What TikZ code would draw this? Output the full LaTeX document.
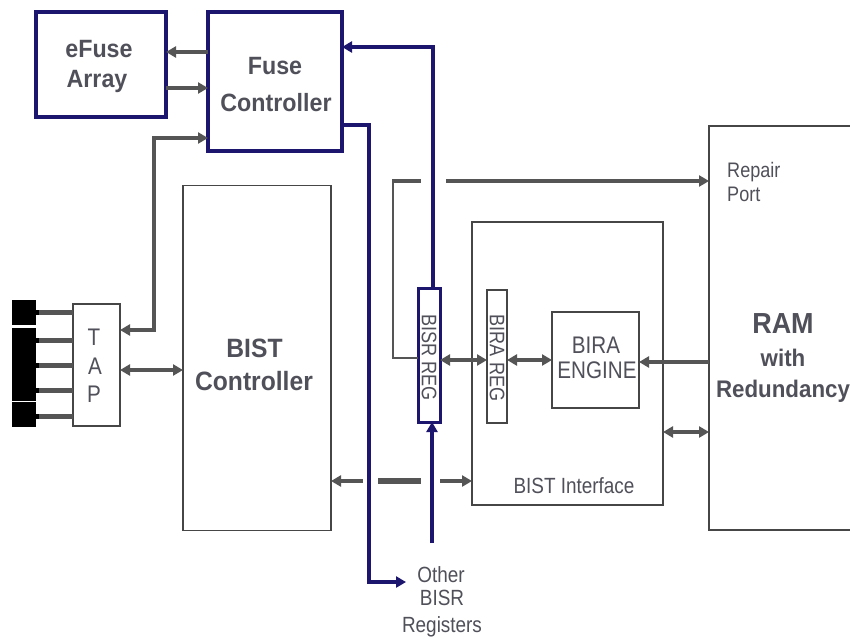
\documentclass[tikz,border=0pt]{standalone}
\usepackage{fontspec}
\newfontfamily\labr[FakeStretch=0.86]{Liberation Sans}
\newfontfamily\labb[FakeStretch=0.93]{Liberation Sans}
\usetikzlibrary{arrows.meta}
\definecolor{navy}{RGB}{28,22,110}
\definecolor{gline}{RGB}{85,85,85}
\definecolor{gbord}{RGB}{70,70,70}
\definecolor{txt}{RGB}{80,80,90}
\tikzset{
  >={Triangle[length=10pt,width=11pt]},
  navybox/.style={draw=navy, line width=3.5pt, fill=white, inner sep=0pt, outer sep=0pt},
  graybox/.style={draw=gbord, line width=1.8pt, fill=white, inner sep=0pt, outer sep=0pt},
  pinbox/.style={fill=black, draw=none, inner sep=0pt, outer sep=0pt, minimum width=24pt},
  garrow/.style={draw=gline, line width=4pt},
  gthin/.style={draw=gline, line width=2pt},
  nline/.style={draw=navy, line width=4.5pt},
  tb25/.style={text=txt, inner sep=0pt, anchor=base, font=\labb\bfseries\fontsize{25}{30}\selectfont},
  tb27/.style={text=txt, inner sep=0pt, anchor=base, font=\labb\bfseries\fontsize{26.5}{30}\selectfont},
  tb29/.style={text=txt, inner sep=0pt, anchor=base, font=\labb\bfseries\fontsize{29}{30}\selectfont},
  tb24/.style={text=txt, inner sep=0pt, anchor=base, font=\labb\bfseries\fontsize{24}{30}\selectfont},
  tr24/.style={text=txt, inner sep=0pt, anchor=base, font=\labr\fontsize{24}{28}\selectfont},
  tr22/.style={text=txt, inner sep=0pt, anchor=base, font=\labr\fontsize{22}{26}\selectfont},
  tr21/.style={text=txt, inner sep=0pt, anchor=base, font=\labr\fontsize{21}{26}\selectfont},
}
\begin{document}
\begin{tikzpicture}[x=1pt,y=-1pt]
\clip (0,0) rectangle (850,639);
\fill[white] (0,0) rectangle (850,639);

% ---------- boxes ----------
\node[navybox, minimum width=130pt, minimum height=105pt] (efuse) at (101,64.5) {};
\node[navybox, minimum width=134pt, minimum height=139pt] (fuse) at (275,81.5) {};
\node[graybox, minimum width=47pt, minimum height=122pt] (tap) at (96.5,365) {};
\node[graybox, minimum width=148pt, minimum height=345pt] (bist) at (257,358) {};
\node[graybox, minimum width=191pt, minimum height=283pt] (bif) at (567.5,363.5) {};
\node[graybox, minimum width=200pt, minimum height=404pt] (ram) at (809,328) {};

% connector pins
\node[pinbox, minimum height=25pt] (pin1) at (24,312.5) {};
\node[pinbox, minimum height=73pt] (pin2) at (24,364) {};
\node[pinbox, minimum height=25pt] (pin3) at (24,414.5) {};

% ---------- gray connectors ----------
\draw[garrow,->] (fuse.west |- 0,52) -- (efuse.east |- 0,52);
\draw[garrow,->] (efuse.east |- 0,88) -- (fuse.west |- 0,88);
\draw[garrow,<->] (tap.east |- 0,330) -| (154,138) -- (fuse.west |- 0,138);
\draw[garrow,<->] (tap.east |- 0,370) -- (bist.west |- 0,370);
\foreach \yy/\pp in {312/pin1,340/pin2,365/pin2,390/pin2,416/pin3}{
  \draw[draw=gline, line width=5pt] (\pp.east |- 0,\yy) -- (tap.west |- 0,\yy);
  \draw[draw=black, line width=5pt] (\pp.east |- 0,\yy) -- ++(3,0);
}

% repair port path
\coordinate (rpa) at (421,181);
\coordinate (rpb) at (446,181);
\node[graybox, minimum width=22pt, minimum height=134pt, draw=navy, line width=3pt] (bisr) at (429,355) {};
\draw[gthin] (bisr.west |- 0,358) -| (393,181) -- (rpa);
\draw[garrow, line width=3.5pt] (392,181) -- (rpa);
\draw[garrow, line width=3.5pt, ->] (rpb) -- (ram.west |- 0,181);

% inner blocks
\node[graybox, minimum width=20pt, minimum height=133pt] (birareg) at (497,356.5) {};
\node[graybox, minimum width=87pt, minimum height=96pt] (engine) at (595.5,360) {};

\draw[garrow,<->] (bisr.east |- 0,360) -- (birareg.west |- 0,360);
\draw[garrow,<->] (birareg.east |- 0,360) -- (engine.west |- 0,360);
\draw[garrow,->] (ram.west |- 0,362) -- (engine.east |- 0,362);
\draw[garrow,<->] (bif.east |- 0,432) -- (ram.west |- 0,432);

% bottom broken double arrow
\coordinate (bda) at (363,481);
\coordinate (bdb) at (378,481);
\coordinate (bdc) at (421,481);
\coordinate (bdd) at (440,481);
\draw[garrow,->] (bda) -- (bist.east |- 0,481);
\draw[garrow, line width=6pt] (bdb) -- (bdc);
\draw[garrow,->] (bdd) -- (bif.west |- 0,481);

% ---------- navy connectors ----------
\coordinate (obr) at (406,582);
\coordinate (obot) at (432,543);
\draw[nline,->] (fuse.east |- 0,125) -| (369,582) -- (obr);
\draw[nline,->] ([xshift=4pt]bisr.north) |- (fuse.east |- 0,47);
\draw[nline,->] (obot) -- ([xshift=3pt]bisr.south);

% ---------- texts ----------
\node[tb25] (t1) at (99,58) {eFuse};
\node[tb25] (t2) at (97,88) {Array};
\node[tb25] (t3) at (275,75) {Fuse};
\node[tb25] (t4) at (276,112) {Controller};
\node[tb27] (t5) at (254.5,357) {BIST};
\node[tb27] (t6) at (254,390) {Controller};
\node[tr24] (t7) at (94,345) {T};
\node[tr24] (t8) at (95,374) {A};
\node[tr24] (t9) at (94,402) {P};
\node[tr21, anchor=center, rotate=-90] (t10) at (429,357.5) {BISR REG};
\node[tr21, anchor=center, rotate=-90] (t11) at (497,358) {BIRA REG};
\node[tr24] (t12) at (596,353) {BIRA};
\node[tr24] (t13) at (597,378) {ENGINE};
\node[tr22] (t14) at (574,493) {BIST Interface};
\node[tr21, anchor=base west] (t15) at (727,178) {Repair};
\node[tr21, anchor=base west] (t16) at (727,201) {Port};
\node[tb29] (t17) at (783,333) {RAM};
\node[tb24] (t18) at (783,366) {with};
\node[tb24] (t19) at (783,397) {Redundancy};
\node[tr22] (t20) at (441,582) {Other};
\node[tr22] (t21) at (442,605) {BISR};
\node[tr22] (t22) at (442,632) {Registers};
\end{tikzpicture}
\end{document}
